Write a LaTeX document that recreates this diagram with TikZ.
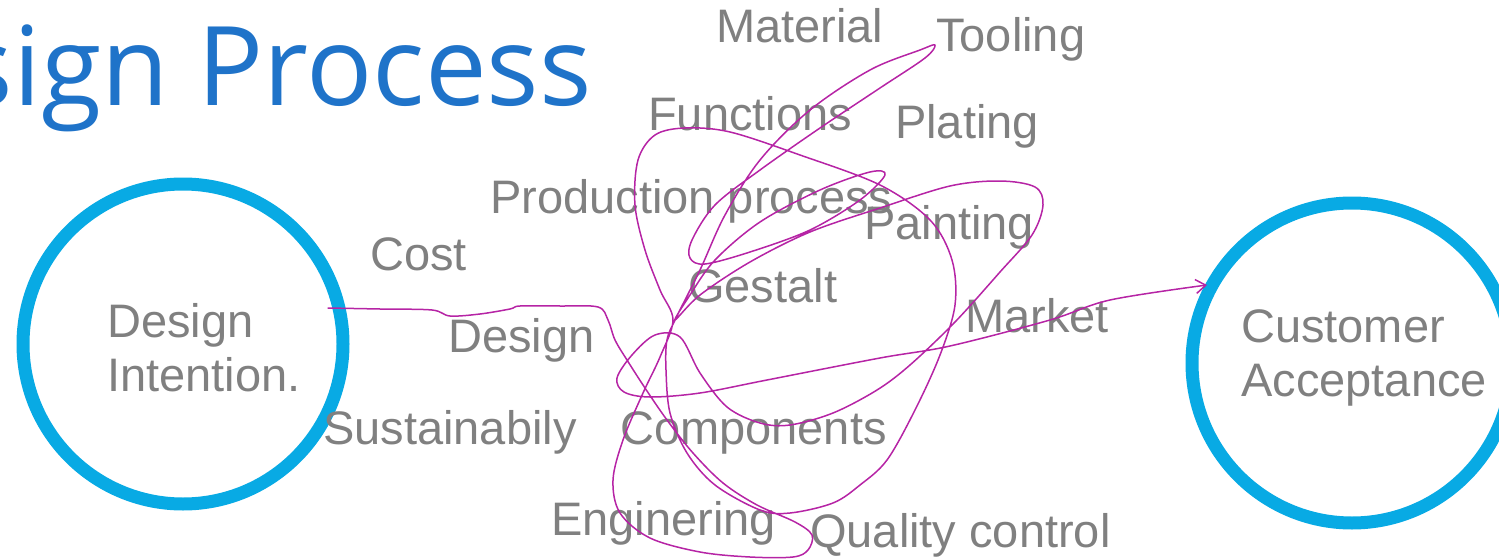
\documentclass[tikz,border=0pt]{standalone}
\usepackage{fontspec}
\setmainfont{Liberation Sans}
\newfontfamily\titlefont{Open Sans}
\usetikzlibrary{arrows.meta}

\definecolor{ringblue}{RGB}{8,170,228}
\definecolor{titleblue}{RGB}{31,115,201}
\definecolor{labelgray}{RGB}{128,128,128}
\definecolor{inkpink}{RGB}{182,36,165}

\begin{document}
\begin{tikzpicture}[x=1pt, y=-1pt, line cap=round, line join=round,
  ring/.style={circle, draw=ringblue, line width=13pt, minimum size=320pt, inner sep=0pt},
  word/.style={anchor=base west, inner sep=0pt, text=labelgray, font=\fontsize{47}{54}\selectfont},
  pair/.style={anchor=north west, inner sep=0pt, align=left, text=labelgray, font=\fontsize{47}{54}\selectfont},
  ink/.style={draw=inkpink, line width=1.5pt}]

  % canvas first: the right ring and the title run off the page
  \useasboundingbox (0,0) rectangle (1499,559);
  \clip (0,0) rectangle (1499,559);

  %% ════ title ════
  \node[anchor=base east, inner sep=0pt, text=titleblue, font=\titlefont\fontsize{110}{122}\selectfont] (title) at (592,106) {sign Process};

  %% ════ the two rings ════
  \node[ring] (intention) at (183,344) {};
  \node[ring] (acceptance) at (1352,363) {};
  \node[pair] (intentiontext) at (107,303) {Design\\Intention.};
  \node[pair] (acceptancetext) at (1241,309) {Customer\\Acceptance};

  %% ════ labels ════
  \node[word] (material)   at (716,43)  {Material};
  \node[word] (tooling)    at (936,52)  {Tooling};
  \node[word] (functions)  at (648,131) {Functions};
  \node[word] (plating)    at (895,139) {Plating};
  \node[word] (production) at (490,213) {Production process};
  \node[word] (painting)   at (864,239) {Painting};
  \node[word] (cost)       at (370,270) {Cost};
  \node[word] (gestalt)    at (688,302) {Gestalt};
  \node[word] (market)     at (965,332) {Market};
  \node[word] (design)     at (448,352) {Design};
  \node[word] (sustain)    at (323,444) {Sustainabily};
  \node[word] (components) at (620,444) {Components};
  \node[word] (engineering) at (551,535) {Enginering};
  \node[word] (quality)    at (810,547) {Quality control};

  %% ════ the scribble, left ring to right ring ════
  \coordinate (start) at (328,308);
  \coordinate (finish) at (1207,285);
  \draw[ink, -{Straight Barb[length=10pt, width=14pt]}] plot[smooth, tension=0.55] coordinates {
    (start) (380,309) (432,310) (450,316) (480,314) (510,309) (520,306) (560,306) (598,307)
    % down and round the bottom loop
    (608,320) (615,340) (627,360) (645,388) (667,420) (693,453) (723,483) (757,505)
    (795,522) (812,535) (808,550) (793,557) (750,557) (700,552) (650,538) (620,513)
    (613,480) (623,440) (643,393) (660,357) (673,320)
    % big loop over Functions
    (660,290) (645,250) (635,205) (638,160) (655,135) (685,128) (730,132) (800,155)
    (880,185) (930,220) (952,260) (955,305) (940,355) (915,410) (887,460) (860,485)
    (833,503) (790,513) (760,510) (715,485) (687,453) (670,413) (666,370) (667,340) (676,318)
    % up to Tooling and back through Production process
    (700,270) (725,215) (760,160) (810,110) (870,70) (920,50) (935,45) (925,58)
    (880,88) (820,128) (760,170) (715,205) (692,240) (690,258) (705,264) (750,252)
    (810,230) (860,200) (885,175) (870,172) (820,190) (760,222) (715,260) (690,295) (675,320)
    % round Painting
    (700,295) (750,262) (810,232) (880,208) (950,186) (1000,181) (1035,187) (1043,205)
    (1032,235) (1000,272) (955,322) (910,365) (877,390) (833,413) (790,425) (760,423)
    (727,407) (700,373) (680,337)
    % last swing out past Market
    (655,335) (632,355) (617,378) (624,392) (650,397) (700,393) (767,380) (880,358)
    (950,346) (1050,320) (1110,300) (finish)
  };
\end{tikzpicture}
\end{document}
